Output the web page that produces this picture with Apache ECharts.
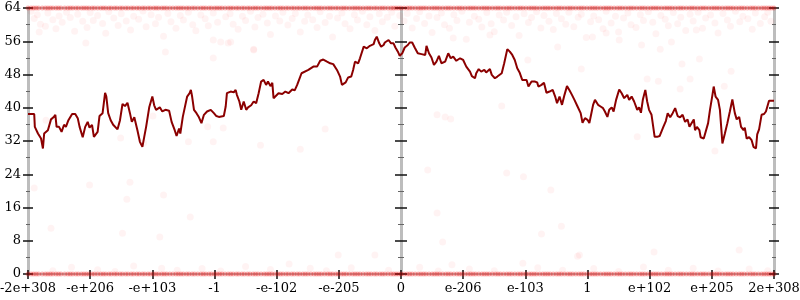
<!DOCTYPE html>
<html>
<head>
<meta charset="utf-8">
<script src="https://cdn.jsdelivr.net/npm/echarts@6/dist/echarts.min.js"></script>
<style>
html,body{margin:0;padding:0;background:#fff;}
#chart{width:800px;height:300px;}
</style>
</head>
<body>
<div id="chart"></div>
<script>
const tickLabels = ['-2e+308','-e+206','-e+103','-1','-e-102','-e-205','0','e-206','e-103','1','e+102','e+205','2e+308'];

const lineX = [-6.00,-5.90,-5.89,-5.84,-5.79,-5.76,-5.74,-5.68,-5.66,-5.63,-5.59,-5.56,-5.54,-5.50,-5.46,-5.42,-5.39,-5.35,-5.29,-5.24,-5.20,-5.17,-5.12,-5.08,-5.04,-5.01,-4.97,-4.94,-4.88,-4.85,-4.80,-4.76,-4.74,-4.71,-4.67,-4.63,-4.56,-4.52,-4.48,-4.44,-4.40,-4.36,-4.33,-4.29,-4.24,-4.20,-4.16,-4.13,-4.10,-4.05,-4.00,-3.97,-3.94,-3.88,-3.84,-3.79,-3.73,-3.69,-3.64,-3.61,-3.57,-3.55,-3.51,-3.48,-3.44,-3.40,-3.38,-3.36,-3.33,-3.29,-3.25,-3.21,-3.17,-3.12,-3.06,-3.04,-3.01,-2.97,-2.93,-2.85,-2.82,-2.80,-2.74,-2.69,-2.66,-2.64,-2.60,-2.57,-2.53,-2.49,-2.46,-2.41,-2.37,-2.33,-2.29,-2.25,-2.21,-2.17,-2.14,-2.10,-2.07,-2.05,-2.02,-1.97,-1.91,-1.86,-1.81,-1.75,-1.71,-1.67,-1.64,-1.60,-1.57,-1.49,-1.41,-1.35,-1.30,-1.25,-1.19,-1.14,-1.09,-1.03,-0.98,-0.95,-0.93,-0.89,-0.85,-0.80,-0.77,-0.74,-0.69,-0.66,-0.60,-0.55,-0.50,-0.44,-0.42,-0.39,-0.35,-0.32,-0.28,-0.26,-0.20,-0.16,-0.12,-0.09,-0.05,-0.02,0.02,0.06,0.11,0.14,0.18,0.22,0.27,0.33,0.39,0.41,0.45,0.49,0.53,0.57,0.61,0.65,0.71,0.76,0.80,0.84,0.89,0.95,1.00,1.05,1.11,1.14,1.19,1.21,1.25,1.29,1.34,1.37,1.43,1.46,1.51,1.55,1.62,1.66,1.71,1.75,1.79,1.83,1.87,1.91,1.95,1.98,2.02,2.05,2.10,2.15,2.19,2.21,2.26,2.30,2.34,2.39,2.44,2.48,2.51,2.55,2.59,2.63,2.67,2.71,2.75,2.79,2.84,2.89,2.92,2.96,3.00,3.03,3.06,3.09,3.12,3.17,3.21,3.25,3.28,3.32,3.35,3.39,3.42,3.46,3.51,3.55,3.59,3.64,3.67,3.71,3.75,3.80,3.83,3.86,3.89,3.93,3.96,3.99,4.03,4.08,4.12,4.16,4.19,4.22,4.26,4.29,4.33,4.37,4.41,4.45,4.49,4.53,4.57,4.61,4.64,4.67,4.71,4.73,4.76,4.80,4.82,4.87,4.90,4.94,4.97,5.01,5.03,5.06,5.10,5.13,5.17,5.21,5.25,5.29,5.33,5.37,5.40,5.44,5.47,5.51,5.53,5.56,5.60,5.64,5.67,5.71,5.73,5.76,5.80,5.84,5.87,5.92,6.00];
const lineY = [38.5,38.5,35.4,33.8,32.6,30.2,33.8,34.6,35.0,37.2,37.7,38.3,35.4,35.4,34.2,35.9,35.4,37.0,38.5,38.5,37.5,35.4,32.9,35.4,36.6,35.2,35.9,33.0,34.2,38.0,38.7,43.6,42.7,38.7,37.0,35.9,34.8,37.0,40.9,40.4,41.2,38.7,36.6,37.7,34.6,31.8,30.6,33.0,35.4,40.1,42.7,40.6,39.5,40.1,39.1,39.5,39.3,36.6,34.6,33.2,35.0,33.8,37.8,38.2,42.7,43.5,44.3,42.7,39.5,38.7,37.7,36.3,38.3,39.1,39.5,39.7,38.7,38.0,37.8,38.0,40.3,43.5,43.9,43.7,44.3,43.1,41.5,39.5,41.5,39.5,40.1,40.6,41.5,41.1,43.5,46.3,46.7,45.5,46.3,45.2,46.0,42.3,42.5,43.5,43.3,43.9,43.5,44.4,44.2,45.5,46.7,48.3,48.7,49.1,49.9,49.9,51.3,51.6,51.1,50.7,50.5,49.1,47.5,45.5,45.1,46.1,47.3,47.5,49.1,51.1,50.7,51.9,54.7,54.3,54.9,55.3,56.3,57.1,55.5,54.7,55.1,55.7,56.3,55.5,55.5,54.5,53.5,52.5,53.1,54.5,55.1,55.7,55.7,54.5,53.1,52.9,52.7,54.9,53.1,52.1,50.3,51.1,52.5,50.7,51.1,53.1,51.9,52.3,51.3,51.9,51.5,49.9,48.7,47.6,47.1,48.3,49.3,48.7,49.1,48.5,49.3,47.9,47.1,47.5,48.3,50.7,54.1,53.5,52.7,51.5,49.5,48.4,46.7,47.1,46.7,45.1,46.3,46.3,46.1,45.1,45.5,46.0,43.6,43.9,44.3,42.7,41.1,42.7,40.7,43.1,45.2,44.2,43.1,41.9,40.3,38.7,36.4,37.5,37.1,36.3,38.5,40.7,41.9,40.7,40.3,39.9,39.1,37.8,39.5,40.1,39.1,41.9,44.4,43.5,42.3,43.1,41.9,42.7,41.5,39.5,40.1,38.8,41.9,44.3,41.5,39.5,38.3,33.0,33.0,33.2,33.0,35.4,36.8,38.7,37.7,38.7,39.9,38.0,37.7,38.3,36.6,37.2,35.4,35.0,37.2,34.6,35.4,34.6,32.9,32.6,32.9,36.3,39.5,43.1,45.1,42.7,41.9,39.5,31.4,33.8,36.3,39.1,42.0,38.7,37.2,37.8,35.4,34.6,35.2,32.6,32.9,32.2,30.6,30.2,33.6,34.8,38.3,38.5,39.1,41.7,41.7];

const bandX = [-6.00,-5.91,-5.83,-5.72,-5.64,-5.55,-5.47,-5.36,-5.28,-5.19,-5.10,-5.02,-4.93,-4.83,-4.75,-4.66,-4.57,-4.48,-4.39,-4.30,-4.21,-4.12,-4.03,-3.94,-3.85,-3.77,-3.67,-3.58,-3.50,-3.41,-3.32,-3.22,-3.14,-3.05,-2.96,-2.88,-2.78,-2.70,-2.61,-2.52,-2.43,-2.34,-2.25,-2.16,-2.08,-1.98,-1.90,-1.81,-1.72,-1.63,-1.54,-1.45,-1.36,-1.28,-1.18,-1.10,-1.01,-0.92,-0.83,-0.74,-0.66,-0.56,-0.48,-0.39,-0.30,-0.21,-0.12,-0.04,0.05,0.14,0.23,0.32,0.40,0.50,0.58,0.67,0.76,0.85,0.94,1.03,1.12,1.20,1.30,1.38,1.47,1.56,1.65,1.74,1.83,1.92,2.01,2.10,2.18,2.28,2.36,2.45,2.54,2.63,2.72,2.81,2.90,2.99,3.08,3.16,3.26,3.34,3.43,3.52,3.61,3.70,3.79,3.88,3.97,4.06,4.14,4.24,4.32,4.41,4.50,4.59,4.68,4.77,4.86,4.95,5.04,5.12,5.22,5.30,5.39,5.48,5.57,5.66,5.75,5.84,5.92,6.00];
const bandX2 = [-5.95,-5.87,-5.77,-5.68,-5.60,-5.51,-5.41,-5.32,-5.23,-5.14,-5.06,-4.97,-4.88,-4.79,-4.70,-4.61,-4.52,-4.43,-4.34,-4.25,-4.16,-4.07,-3.98,-3.90,-3.81,-3.72,-3.62,-3.54,-3.45,-3.36,-3.27,-3.18,-3.09,-3.00,-2.92,-2.83,-2.74,-2.65,-2.56,-2.47,-2.38,-2.30,-2.20,-2.12,-2.03,-1.94,-1.85,-1.76,-1.67,-1.58,-1.50,-1.40,-1.32,-1.23,-1.14,-1.05,-0.96,-0.88,-0.78,-0.70,-0.61,-0.52,-0.43,-0.34,-0.26,-0.16,-0.08,0.00,0.10,0.18,0.28,0.36,0.45,0.54,0.62,0.72,0.80,0.90,0.98,1.08,1.16,1.25,1.34,1.42,1.52,1.60,1.70,1.78,1.88,1.96,2.06,2.14,2.23,2.32,2.40,2.50,2.58,2.68,2.76,2.86,2.94,3.04,3.12,3.21,3.30,3.38,3.48,3.56,3.66,3.74,3.84,3.92,4.02,4.10,4.19,4.28,4.36,4.46,4.54,4.64,4.72,4.82,4.90,5.00,5.08,5.17,5.26,5.34,5.44,5.52,5.62,5.70,5.80,5.88,5.96];
const bandTopValue = 64;
const bandBottomValue = 0;

const cloudTop = [[-5.95,63.2],[-5.9,61.5],[-5.85,62.4],[-5.8,60.1],[-5.72,59.6],[-5.68,62.8],[-5.6,61.2],[-5.55,59.0],[-5.5,62.1],[-5.45,60.6],[-5.38,63.0],[-5.32,61.7],[-5.25,58.4],[-5.2,62.5],[-5.12,60.8],[-5.05,59.3],[-5.0,62.9],[-4.95,61.0],[-4.88,62.2],[-4.8,60.3],[-4.75,57.9],[-4.7,63.1],[-4.62,61.6],[-4.55,59.8],[-4.5,62.6],[-4.42,60.9],[-4.35,58.7],[-4.3,62.0],[-4.22,61.3],[-4.15,63.3],[-4.1,59.5],[-4.02,62.4],[-3.95,60.2],[-3.9,61.8],[-3.82,57.2],[-3.75,62.7],[-3.7,60.7],[-3.62,59.1],[-3.55,62.2],[-3.5,61.1],[-3.42,63.0],[-3.35,60.0],[-3.3,58.5],[-3.22,62.3],[-3.15,61.4],[-3.1,59.7],[-3.02,62.8],[-2.95,60.6],[-2.9,55.8],[-2.82,61.9],[-2.75,62.6],[-2.7,60.1],[-2.62,58.9],[-2.55,62.0],[-2.5,61.0],[-2.42,63.2],[-2.35,59.4],[-2.3,61.7],[-2.22,62.5],[-2.15,60.4],[-2.1,57.6],[-2.02,62.1],[-1.95,60.9],[-1.9,63.0],[-1.82,59.9],[-1.75,61.5],[-1.7,62.7],[-1.62,58.2],[-1.55,60.8],[-1.5,62.3],[-1.42,61.2],[-1.35,59.3],[-1.3,63.1],[-1.22,60.5],[-1.15,62.0],[-1.1,57.0],[-1.02,61.6],[-0.95,62.8],[-0.9,60.2],[-0.82,59.0],[-0.75,62.4],[-0.7,61.1],[-0.62,63.2],[-0.55,60.0],[-0.5,61.9],[-0.42,58.6],[-0.35,62.6],[-0.3,60.7],[-0.22,61.8],[-0.15,63.0],[-0.1,59.6],[-0.02,62.2],[0.05,60.9],[0.1,62.7],[0.18,59.2],[0.25,61.5],[0.3,63.1],[0.38,60.3],[0.45,62.1],[0.5,58.1],[0.58,61.7],[0.65,62.8],[0.7,60.0],[0.78,59.1],[0.85,62.4],[0.9,61.0],[0.98,63.2],[1.05,56.5],[1.1,60.6],[1.18,62.0],[1.25,61.3],[1.3,59.4],[1.38,62.9],[1.45,60.2],[1.5,58.3],[1.58,62.3],[1.65,61.1],[1.7,63.0],[1.78,59.8],[1.85,61.9],[1.9,57.4],[1.98,62.6],[2.05,60.5],[2.1,61.7],[2.18,63.1],[2.25,59.2],[2.3,62.2],[2.38,60.8],[2.45,58.8],[2.5,62.7],[2.58,61.4],[2.65,60.1],[2.7,63.0],[2.78,59.5],[2.85,61.8],[2.9,62.5],[2.98,56.9],[3.05,60.7],[3.1,62.1],[3.18,61.2],[3.25,59.0],[3.3,63.2],[3.38,60.4],[3.45,62.0],[3.5,58.2],[3.58,61.6],[3.65,62.8],[3.7,60.0],[3.78,59.3],[3.85,62.4],[3.9,61.0],[3.98,63.1],[4.05,60.6],[4.1,57.8],[4.18,62.2],[4.25,61.3],[4.3,59.7],[4.38,62.9],[4.45,60.2],[4.5,61.8],[4.58,58.6],[4.65,62.5],[4.7,60.9],[4.78,63.0],[4.85,59.1],[4.9,61.6],[4.98,62.3],[5.05,60.4],[5.1,58.0],[5.18,62.7],[5.25,61.1],[5.3,59.6],[5.38,63.2],[5.45,60.7],[5.5,62.0],[5.58,61.4],[5.65,58.9],[5.7,62.8],[5.78,60.3],[5.85,61.9],[5.9,63.0],[5.95,60.8],
[-5.82,58.2],[-5.07,55.6],[-3.79,53.4],[-3.02,52.0],[-2.78,55.6],[-2.37,54.1],[-3.02,56.3],[-2.74,55.8],[-2.37,53.9],[0.84,56.8],[1.43,57.5],[3.08,57.0],[2.04,51.5],[2.52,54.6],[3.87,55.1],[4.17,54.1],[4.52,50.5],[4.80,51.7],[5.31,48.8],[2.90,49.3],[3.96,46.9],[4.14,46.4],[4.65,46.9],[5.20,45.2],[4.49,44.5],[3.51,56.3],[4.35,55.8],[4.75,58.7],[3.30,58.0]];

const cloudMid = [[-5.71,37.0],[-5.90,20.7],[-5.01,21.4],[-4.36,22.1],[-4.41,18.0],[-3.82,19.0],[-5.63,11.0],[-4.48,9.8],[-3.88,8.9],[-3.39,13.7],[-4.51,32.7],[-3.42,31.8],[-4.14,31.5],[-3.99,38.0],[0.58,38.3],[0.71,37.8],[0.80,37.3],[1.62,40.4],[0.43,25.0],[1.70,24.3],[1.97,23.4],[2.41,20.2],[0.58,14.7],[2.58,11.5],[2.26,9.6],[0.67,7.7],[2.84,4.3],[-3.11,35.4],[-2.86,35.1],[-3.02,31.8],[-2.26,31.0],[-1.62,30.0],[-1.22,34.9],[3.80,33.0],[5.05,29.6]];

const cloudBottom = [[-1.01,4.6],[-0.42,4.6],[-1.46,1.4],[0.82,2.2],[1.96,2.6],[2.87,4.6],[4.07,5.3],[5.44,5.8],[-4.88,1.0],[-3.85,1.4],[-5.6,0.8],[-5.3,1.6],[-4.6,0.6],[-4.3,1.9],[-3.6,0.9],[-3.2,1.3],[-2.9,0.7],[-2.5,1.8],[-2.1,1.1],[-1.8,2.4],[-1.2,0.8],[-0.8,1.5],[-0.2,0.9],[0.3,1.6],[0.6,0.7],[1.1,1.2],[1.5,0.8],[2.2,1.5],[2.6,0.9],[3.1,1.3],[3.5,0.6],[3.9,1.7],[4.3,0.9],[4.7,1.4],[5.1,0.7],[5.6,1.2],[5.9,0.8]];

const chart = echarts.init(document.getElementById('chart'), null, {renderer: 'canvas'});

const font = 'DejaVu Serif';
const axisGray = '#bdbdbd';

function xAx(extra) {
  return Object.assign({
    type: 'value', min: -6, max: 6, interval: 1,
    splitLine: {show: false},
    axisLine: {show: false, onZero: false},
    axisTick: {show: false},
    axisLabel: {show: false}
  }, extra);
}
function yAx(extra) {
  return Object.assign({
    type: 'value', min: 0, max: 64, interval: 8,
    splitLine: {show: false},
    axisLine: {show: false, onZero: false},
    axisTick: {show: false},
    minorTick: {show: false},
    axisLabel: {show: false}
  }, extra);
}
const majorTick = (inside, len) => ({show: true, inside: inside, length: len, lineStyle: {color: '#111', width: 1.5}});
const minorTick = (inside, len) => ({show: true, inside: inside, length: len, splitNumber: 2, lineStyle: {color: '#666', width: 1}});

const bandAll = bandX.concat(bandX2);
const bandTop = bandAll.map(x => [x, bandTopValue]);
const bandBottom = bandAll.map(x => [x, bandBottomValue]);

chart.setOption({
  animation: false,
  backgroundColor: '#ffffff',
  grid: {left: 28, right: 26, top: 8, bottom: 26, containLabel: false, outerBoundsMode: 'none'},
  xAxis: [
    xAx({position: 'bottom',
      axisLine: {show: true, onZero: false, lineStyle: {color: axisGray, width: 2}},
      axisTick: majorTick(false, 5),
      axisLabel: {show: true, margin: 8, fontFamily: font, fontSize: 13, color: '#000',
        formatter: v => tickLabels[Math.round(v) + 6]}
    }),
    xAx({position: 'bottom', axisTick: majorTick(true, 4)}),
    xAx({position: 'top', axisLine: {show: true, onZero: false, lineStyle: {color: axisGray, width: 2}}})
  ],
  yAxis: [
    yAx({position: 'left',
      axisLine: {show: true, onZero: false, lineStyle: {color: axisGray, width: 3}},
      axisTick: majorTick(false, 5), minorTick: minorTick(false, 2),
      axisLabel: {show: true, margin: 7, fontFamily: font, fontSize: 13, color: '#000'}
    }),
    yAx({position: 'left', axisTick: majorTick(true, 5), minorTick: minorTick(true, 2)}),
    yAx({position: 'right',
      axisLine: {show: true, onZero: false, lineStyle: {color: axisGray, width: 3}},
      axisTick: majorTick(false, 5), minorTick: minorTick(false, 2)
    }),
    yAx({position: 'right', axisTick: majorTick(true, 5), minorTick: minorTick(true, 2)}),
    yAx({position: 'left',
      axisLine: {show: true, onZero: true, onZeroAxisIndex: 0, lineStyle: {color: axisGray, width: 3}},
      axisTick: majorTick(false, 6), minorTick: minorTick(false, 3)
    }),
    yAx({position: 'left',
      axisLine: {show: false, onZero: true, onZeroAxisIndex: 0},
      axisTick: majorTick(true, 6), minorTick: minorTick(true, 3)
    })
  ],
  series: [
    {type: 'scatter', data: cloudTop.concat(cloudMid, cloudBottom), symbolSize: 7,
      itemStyle: {color: 'rgba(255,0,0,0.06)'}, silent: true, z: 2},
    {type: 'scatter', data: bandTop, symbolSize: 5,
      itemStyle: {color: 'rgba(240,0,0,0.35)'}, silent: true, z: 2},
    {type: 'scatter', data: bandBottom, symbolSize: 5,
      itemStyle: {color: 'rgba(240,0,0,0.35)'}, silent: true, z: 2},
    {type: 'line', data: lineX.map((x, i) => [x, lineY[i]]), showSymbol: false, symbol: 'none',
      lineStyle: {color: '#8b0000', width: 2}, z: 3}
  ]
});
</script>
</body>
</html>
